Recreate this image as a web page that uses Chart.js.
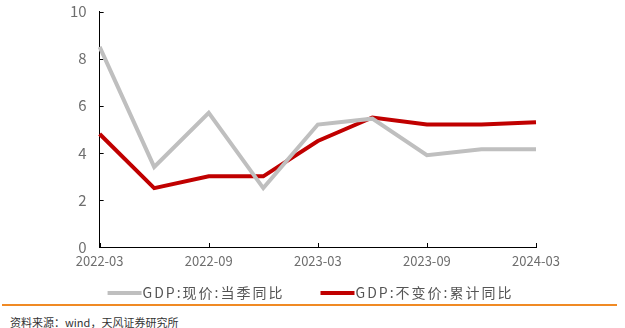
<!DOCTYPE html>
<html>
<head>
<meta charset="utf-8">
<script src="https://cdn.jsdelivr.net/npm/chart.js@4"></script>
<style>
  html, body { margin: 0; padding: 0; background: #fff; }
  #wrap { position: relative; width: 625px; height: 328px; overflow: hidden; }
  #box { position: absolute; left: 0; top: 0; width: 625px; height: 302px; }
  #rule { position: absolute; left: 2px; top: 304px; width: 615px; height: 2px; background: #f08a24; }
  #src { position: absolute; left: 10px; top: 314px; font: 11px "Noto Sans CJK SC", sans-serif; color: #333; }
</style>
</head>
<body>
<div id="wrap">
  <div id="box"><canvas id="chart"></canvas></div>
  <div id="rule"></div>
  <div id="src">资料来源：wind，天风证券研究所</div>
</div>
<script>
const labels = ["2022-03", "2022-06", "2022-09", "2022-12", "2023-03", "2023-06", "2023-09", "2023-12", "2024-03"];
const nominalYoY = [8.5, 3.4, 5.7, 2.5, 5.2, 5.45, 3.9, 4.15, 4.15];
const realCumYoY = [4.8, 2.5, 3.0, 3.0, 4.5, 5.5, 5.2, 5.2, 5.3];
const yTicks = [0, 2, 4, 6, 8, 10];

// small tick marks pointing into the plot, like the original
const innerTicks = {
  id: "innerTicks",
  beforeDatasetsDraw(chart) {
    const { ctx, chartArea: a, scales: { x, y } } = chart;
    ctx.save();
    ctx.strokeStyle = "#000";
    ctx.lineWidth = 1;
    ctx.beginPath();
    y.ticks.forEach(t => {
      const py = Math.round(y.getPixelForValue(t.value)) + 0.5;
      ctx.moveTo(a.left, py);
      ctx.lineTo(a.left + 4, py);
    });
    labels.forEach((l, i) => {
      if (i % 2) return;
      const px = Math.round(x.getPixelForValue(i)) + 0.5;
      ctx.moveTo(px, a.bottom);
      ctx.lineTo(px, a.bottom - 4);
    });
    ctx.stroke();
    ctx.restore();
  }
};

// legend row under the axis: short bar, then spaced label text
const lineLegend = {
  id: "lineLegend",
  afterDraw(chart) {
    const ctx = chart.ctx;
    const sets = chart.data.datasets;
    ctx.save();
    ctx.font = '14px "Noto Sans CJK SC"';
    ctx.letterSpacing = "2px";
    ctx.textBaseline = "middle";
    const barW = 34, gap = 36, y = 293;
    const widths = sets.map(ds => barW + 1 + ctx.measureText(ds.label).width);
    const total = widths.reduce((s, w) => s + w, 0) + gap * (sets.length - 1);
    let x = (chart.width - total) / 2 - 2;
    sets.forEach((ds, i) => {
      ctx.fillStyle = ds.borderColor;
      ctx.fillRect(x, y - 2, barW, 4);
      ctx.fillStyle = "#555";
      ctx.fillText(ds.label, x + barW + 1, y);
      x += widths[i] + gap;
    });
    ctx.restore();
  }
};

const ctx = document.getElementById("chart").getContext("2d");

new Chart(ctx, {
  type: "line",
  data: {
    labels: labels,
    datasets: [
      {
        label: "GDP:现价:当季同比",
        data: nominalYoY,
        borderColor: "#bfbfbf",
        backgroundColor: "#bfbfbf",
        borderWidth: 4,
        pointRadius: 0,
        tension: 0
      },
      {
        label: "GDP:不变价:累计同比",
        data: realCumYoY,
        borderColor: "#c00000",
        backgroundColor: "#c00000",
        borderWidth: 4,
        pointRadius: 0,
        tension: 0
      }
    ]
  },
  plugins: [innerTicks, lineLegend],
  options: {
    responsive: true,
    maintainAspectRatio: false,
    animation: false,
    layout: { autoPadding: false, padding: { left: 66, right: 89, top: 0, bottom: 31 } },
    plugins: {
      legend: { display: false },
      tooltip: { enabled: false }
    },
    scales: {
      x: {
        // outer tick marks hidden; their length only spaces the labels
        grid: { drawOnChartArea: false, tickLength: 5, color: "rgba(0,0,0,0)" },
        border: { color: "#000", width: 1 },
        ticks: {
          autoSkip: false,
          maxRotation: 0,
          padding: 3,
          color: "#6e6e6e",
          font: { family: "Noto Sans CJK SC", size: 13, lineHeight: 1 },
          callback: (v, i) => (i % 2 === 0 ? labels[i] : "")
        }
      },
      y: {
        min: 0,
        max: 10,
        afterBuildTicks: axis => { axis.ticks = yTicks.map(v => ({ value: v })); },
        grid: { drawOnChartArea: false, tickLength: 9, color: "rgba(0,0,0,0)" },
        border: { color: "#000", width: 1 },
        ticks: {
          color: "#6e6e6e",
          padding: 4,
          font: { family: "Noto Sans CJK SC", size: 15, lineHeight: 1 }
        }
      }
    }
  }
});
</script>
</body>
</html>
